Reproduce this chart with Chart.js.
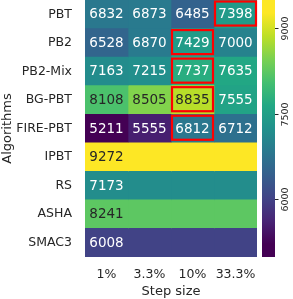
<!DOCTYPE html>
<html>
<head>
<meta charset="utf-8">
<script src="https://cdn.jsdelivr.net/npm/chart.js@4.4.0/dist/chart.umd.min.js"></script>
<style>
    html, body { margin: 0; padding: 0; background: #fff; }
</style>
</head>
<body>
<canvas id="heatChart" width="293" height="299"></canvas>
<script>
// values
var algorithms = ['PBT', 'PB2', 'PB2-Mix', 'BG-PBT', 'FIRE-PBT', 'IPBT', 'RS', 'ASHA', 'SMAC3'];
var stepSizes = ['1%', '3.3%', '10%', '33.3%'];
// one array per step size column, null = method has no step size (value only in 1% column)
var col1 = [6832, 6528, 7163, 8108, 5211, 9272, 7173, 8241, 6008];
var col2 = [6873, 6870, 7215, 8505, 5555, null, null, null, null];
var col3 = [6485, 7429, 7737, 8835, 6812, null, null, null, null];
var col4 = [7398, 7000, 7635, 7555, 6712, null, null, null, null];
// best column per row (red box), -1 = none
var bestCol = [3, 2, 2, 2, 2, -1, -1, -1, -1];
var cbTicks = [6000, 7500, 9000];

var columns = [col1, col2, col3, col4];

var allValues = [];
columns.forEach(function (c) {
    c.forEach(function (v) {
        if (v !== null) allValues.push(v);
    });
});
var vmin = Math.min.apply(null, allValues);
var vmax = Math.max.apply(null, allValues);

var viridis = ['#440154', '#482475', '#414487', '#355f8d', '#2a788e', '#21918c',
    '#22a884', '#44bf70', '#7ad151', '#bddf26', '#fde725'];

function hexToRgb(h) {
    return [parseInt(h.substr(1, 2), 16), parseInt(h.substr(3, 2), 16), parseInt(h.substr(5, 2), 16)];
}

function viridisRgb(t) {
    t = Math.max(0, Math.min(1, t));
    var pos = t * (viridis.length - 1);
    var i = Math.min(Math.floor(pos), viridis.length - 2);
    var f = pos - i;
    var a = hexToRgb(viridis[i]), b = hexToRgb(viridis[i + 1]);
    return [0, 1, 2].map(function (k) {
        return Math.round(a[k] + (b[k] - a[k]) * f);
    });
}

function cellValue(c, r) {
    var v = columns[c][r];
    return v === null ? col1[r] : v;
}

function colorFor(v) {
    var rgb = viridisRgb((v - vmin) / (vmax - vmin));
    return 'rgb(' + rgb.join(',') + ')';
}

function textColor(v) {
    var rgb = viridisRgb((v - vmin) / (vmax - vmin)).map(function (x) {
        x = x / 255;
        return x <= 0.03928 ? x / 12.92 : Math.pow((x + 0.055) / 1.055, 2.4);
    });
    var lum = 0.2126 * rgb[0] + 0.7152 * rgb[1] + 0.0722 * rgb[2];
    return lum > 0.4 ? '#262626' : '#ffffff';
}

var datasets = [];
for (var c = 0; c < stepSizes.length; c++) {
    datasets.push({
        label: stepSizes[c],
        data: algorithms.map(function () { return 1; }),
        backgroundColor: algorithms.map((function (cc) {
            return function (a, r) { return colorFor(cellValue(cc, r)); };
        })(c)),
        borderWidth: 0,
        barPercentage: 1,
        categoryPercentage: 1
    });
}

var heatPlugin = {
    id: 'heatPlugin',
    afterDatasetsDraw: function (chart) {
        var ctx = chart.ctx;
        ctx.save();
        ctx.font = '13.5px "DejaVu Sans"';
        ctx.textAlign = 'center';
        ctx.textBaseline = 'middle';
        chart.data.datasets.forEach(function (ds, c) {
            var meta = chart.getDatasetMeta(c);
            meta.data.forEach(function (bar, r) {
                var v = columns[c][r];
                if (v === null) return;
                var p = bar.getCenterPoint();
                ctx.fillStyle = textColor(v);
                ctx.fillText(String(v), p.x, p.y + 0.5);
            });
        });
        // red boxes around the best step size
        ctx.strokeStyle = '#ff0000';
        ctx.lineWidth = 2.2;
        bestCol.forEach(function (c, r) {
            if (c < 0) return;
            var bar = chart.getDatasetMeta(c).data[r];
            var left = Math.min(bar.base, bar.x), right = Math.max(bar.base, bar.x);
            var top = bar.y - bar.height / 2, bottom = bar.y + bar.height / 2;
            ctx.strokeRect(left + 1, top + 1.5, right - left - 2, bottom - top - 4.5);
        });
        ctx.restore();
    },
    afterDraw: function (chart) {
        var ctx = chart.ctx;
        var cb = chart.scales.cb;
        var x0 = chart.chartArea.right + 5;
        var w = 13;
        ctx.save();
        var grad = ctx.createLinearGradient(0, cb.getPixelForValue(vmin), 0, cb.getPixelForValue(vmax));
        viridis.forEach(function (col, i) {
            grad.addColorStop(i / (viridis.length - 1), col);
        });
        ctx.fillStyle = grad;
        ctx.fillRect(x0, cb.top, w, cb.bottom - cb.top);
        ctx.strokeStyle = '#262626';
        ctx.lineWidth = 1;
        ctx.fillStyle = '#262626';
        ctx.font = '9.5px "DejaVu Sans"';
        ctx.textAlign = 'center';
        ctx.textBaseline = 'middle';
        cbTicks.forEach(function (t) {
            var y = Math.round(cb.getPixelForValue(t)) + 0.5;
            ctx.beginPath();
            ctx.moveTo(x0 + w, y);
            ctx.lineTo(x0 + w + 3.5, y);
            ctx.stroke();
            ctx.save();
            ctx.translate(x0 + w + 11, y);
            ctx.rotate(-Math.PI / 2);
            ctx.fillText(String(t), 0, 0);
            ctx.restore();
        });
        ctx.restore();
    }
};

Chart.defaults.font.family = '"DejaVu Sans"';
Chart.defaults.color = '#262626';

var ctx = document.getElementById('heatChart');
var heatChart = new Chart(ctx, {
    type: 'bar',
    data: {
        labels: algorithms,
        datasets: datasets
    },
    options: {
        indexAxis: 'y',
        responsive: false,
        animation: false,
        events: [],
        layout: {
            padding: {left: 0, top: 0, right: 36, bottom: 0}
        },
        plugins: {
            legend: {display: false},
            tooltip: {enabled: false}
        },
        scales: {
            x: {
                type: 'linear',
                stacked: true,
                min: 0,
                max: stepSizes.length,
                afterBuildTicks: function (scale) {
                    scale.ticks = stepSizes.map(function (s, i) {
                        return {value: i + 0.5};
                    });
                },
                afterFit: function (scale) {
                    scale.height = 42;
                    scale.paddingLeft = 0;
                    scale.paddingRight = 0;
                },
                ticks: {
                    font: {size: 12.5},
                    padding: 10,
                    maxRotation: 0,
                    callback: function (v) {
                        return stepSizes[Math.floor(v)];
                    }
                },
                grid: {display: false, drawTicks: false},
                border: {display: false},
                title: {
                    display: true,
                    text: 'Step size',
                    font: {size: 13},
                    padding: 0
                }
            },
            y: {
                type: 'category',
                stacked: true,
                afterFit: function (scale) {
                    scale.width = 85;
                    scale.paddingTop = 0;
                    scale.paddingBottom = 0;
                },
                ticks: {
                    font: {size: 12.5},
                    padding: 13
                },
                grid: {display: false, drawTicks: false},
                border: {display: false},
                title: {
                    display: true,
                    text: 'Algorithms',
                    font: {size: 13},
                    padding: 0
                }
            },
            cb: {
                type: 'linear',
                axis: 'y',
                position: 'right',
                display: false,
                min: vmin,
                max: vmax
            }
        }
    },
    plugins: [heatPlugin]
});
</script>
</body>
</html>
